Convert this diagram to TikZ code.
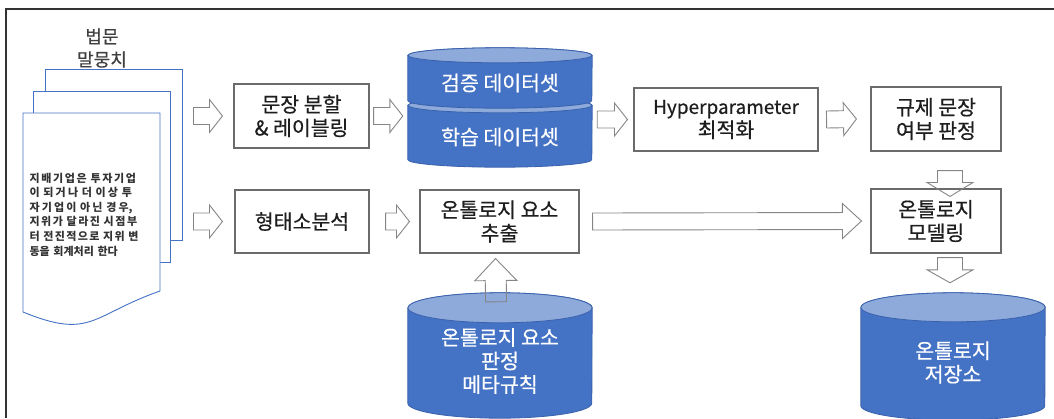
\documentclass[tikz,border=0pt]{standalone}
\usepackage{fontspec}
\setmainfont{Noto Sans CJK KR}
\newfontfamily\boxfont{Noto Sans CJK KR}[FakeBold=0.5]
\usepackage{xcolor}
\usepackage{tikz}
\usetikzlibrary{calc, positioning}

\definecolor{framegray}{HTML}{333333}
\definecolor{boxgray}{HTML}{6B6B6B}
\definecolor{arrowgray}{HTML}{858585}
\definecolor{txtblack}{HTML}{1E1E1E}
\definecolor{lawgray}{HTML}{333333}
\definecolor{titlegray}{HTML}{3F3F3F}
\definecolor{pageblue}{HTML}{4472C4}
\definecolor{dbblue}{HTML}{4472C4}
\definecolor{dblight}{HTML}{8EAADB}
\definecolor{dbedge}{HTML}{3A62AC}

% Giãn đều giữa các chữ Hangul (chỉ bật trong nút văn bản)
\newXeTeXintercharclass\hanclass
\newcount\hancode
\hancode="AC00
\loop
  \XeTeXcharclass\hancode=\hanclass
  \ifnum\hancode<"D7A3 \advance\hancode by 1
\repeat
\XeTeXinterchartoks\hanclass\hanclass={\nobreak\hskip 0pt plus 3pt\relax}

% Khối trụ vẽ trong nút #1, bán kính elip #2
\newcommand{\dbdrum}[2]{%
  \path[dbbody] ([yshift=-#2]#1.north west) -- ([yshift=#2]#1.south west)
    arc[start angle=180, end angle=360, x radius=92, y radius=#2]
    -- ([yshift=-#2]#1.north east)
    arc[start angle=0, end angle=180, x radius=92, y radius=#2] -- cycle;
  \path[dbtop] ([yshift=-#2]#1.north) ellipse[x radius=92, y radius=#2];
}

\begin{document}
\begin{tikzpicture}[x=1pt, y=1pt,
    box/.style={draw=boxgray, line width=1.1pt, minimum height=63, align=center,
      text=txtblack, font=\boxfont\fontsize{20.5}{23.5}\selectfont},
    page/.style={draw=pageblue, fill=white, line width=0.9pt},
    dbarea/.style={minimum width=184, inner sep=0pt},
    dbbody/.style={fill=dbblue, draw=dbedge, line width=0.8pt},
    dbtop/.style={fill=dblight, draw=dbedge, line width=0.8pt},
    dbtext/.style={text=white, align=center, font=\boxfont\fontsize{20.5}{23.5}\selectfont},
    hollow/.style n args={3}{draw=arrowgray, line width=0.9pt, line join=miter,
      to path={let \p1=(\tikztostart), \p2=(\tikztotarget),
        \n1={veclen(\x2-\x1,\y2-\y1)}, \n2={atan2(\y2-\y1,\x2-\x1)} in
        {[shift={(\p1)}, rotate=\n2]
          (0,-#1) -- (\n1-#3,-#1) -- (\n1-#3,-#2) -- (\n1,0)
          -- (\n1-#3,#2) -- (\n1-#3,#1) -- (0,#1) -- cycle}}}]
    \useasboundingbox (0,0) rectangle (1054,-418);
    \clip (0,0) rectangle (1054,-418);

    % Khung ngoài
    \draw[framegray, line width=1.5pt] (6,-418) -- (6,-9) -- (1054,-9);

    % Chồng văn bản
    \node[text=titlegray, align=center, font=\boxfont\fontsize{18}{23}\selectfont] (title) at (102,-48) {법문\\말뭉치};
    \node[page, minimum width=137, minimum height=171] (page3) at (113.5,-154.5) {};
    \node[page, minimum width=137, minimum height=171] (page2) at (101.5,-176.5) {};
    \draw[page] (23,-113) -- (160,-113) -- (160,-291)
        .. controls (91.5,-315) and (91.5,-340) .. (23,-312) -- cycle;
    \node[text=lawgray, font=\fontsize{11}{14.6}\selectfont\bfseries, text width=119, inner sep=0pt] (law) at (89,-214.5)
        {\XeTeXinterchartokenstate=1 \noindent 지배기업은 투자기업\linebreak 이 되거나 더 이상 투\linebreak 자기업이 아닌 경우,\linebreak 지위가 달라진 시점부\linebreak 터 전진적으로 지위 변\linebreak 동을 회계처리 한다};

    % Các bước xử lý
    \node[box, minimum width=135, minimum height=64] (split) at (301.5,-116) {문장 분할\\\& 레이블링};
    \node[box, minimum width=134] (morph) at (302,-221.5) {형태소분석};
    \node[box, minimum width=159] (extract) at (499.5,-221.5) {온톨로지 요소\\추출};
    \node[box, minimum width=184] (hyper) at (726,-119.5) {{\fontsize{19}{23.5}\selectfont Hyperparameter}\\최적화};
    \node[box, minimum width=130, minimum height=64] (decide) at (936,-119) {규제 문장\\여부 판정};
    \node[box, minimum width=130, minimum height=64] (model) at (936,-221) {온톨로지\\모델링};

    % Cơ sở dữ liệu
    \node[dbarea, minimum height=69] (train) at (500,-132.5) {};
    \node[dbarea, minimum height=60] (valid) at (500,-78) {};
    \node[dbarea, minimum height=125] (meta) at (500,-355.5) {};
    \node[dbarea, minimum height=127] (store) at (953,-356.5) {};
    \dbdrum{train}{7.5}
    \dbdrum{valid}{7.5}
    \dbdrum{meta}{15}
    \dbdrum{store}{14.5}
    \node[dbtext] (validtxt) at (500,-83) {검증 데이터셋};
    \node[dbtext] (traintxt) at (500,-137) {학습 데이터셋};
    \node[dbtext] (metatxt) at (500,-361) {온톨로지 요소\\판정\\메타규칙};
    \node[dbtext] (storetxt) at (953,-362.5) {온톨로지\\저장소};

    % Mũi tên rỗng
    \draw[hollow={8.5}{16.5}{13}] ($(page3.east |- split)+(11,0)$) to ($(split.west)+(-11,0)$);
    \draw[hollow={8.5}{16.5}{13}] ($(page3.east |- morph)+(11,0)$) to ($(morph.west)+(-12,0)$);
    \draw[hollow={8.5}{16.5}{13}] ($(split.east)+(4,0)$) to ($(split.east -| valid.west)+(-5,0)$);
    \draw[hollow={8.5}{16.5}{13}] ($(morph.east)+(16,0)$) to ($(extract.west)+(-10,0)$);
    \draw[hollow={8.5}{16.5}{13}] ($(hyper.west -| valid.east)+(5,0)$) to ($(hyper.west)+(-6,0)$);
    \draw[hollow={8.5}{16.5}{13}] ($(hyper.east)+(8,0)$) to ($(decide.west)+(-14,0)$);
    \draw[hollow={8.5}{17.5}{19}] ($(extract.east)+(13,0)$) to ($(model.west)+(-9,0)$);
    \draw[hollow={12.5}{23}{14}] ($(decide.south -| store)+(-3,-19)$) to ($(model.north -| store)+(-3,-8)$);
    \draw[hollow={12.5}{23}{13}] ($(model.south -| store)+(-3,-4)$) to ($(store.north)+(-3,10)$);
    \draw[hollow={10.5}{21}{22}] ($(meta.north)+(-4,-9)$) to ($(extract.south)+(-4,-5)$);
\end{tikzpicture}
\end{document}
